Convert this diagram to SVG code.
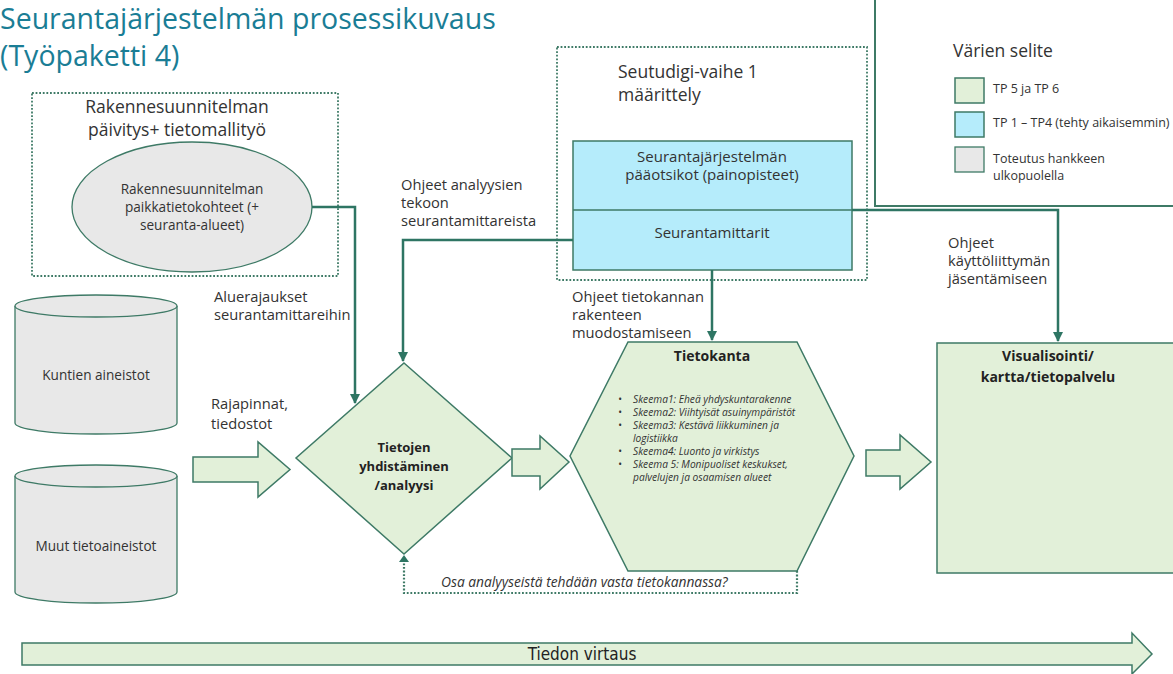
<svg xmlns="http://www.w3.org/2000/svg" width="1173" height="674" viewBox="0 0 1173 674">
<defs>
<marker id="ah" viewBox="0 0 10 10" refX="9" refY="5" markerWidth="4" markerHeight="4" orient="auto" markerUnits="strokeWidth">
<path d="M0,0 L10,5 L0,10 z" fill="#2e7563"/>
</marker>
<style>
text{font-family:"Open Sans","Liberation Sans",sans-serif;fill:#333;}
.title{fill:#1a7d95;font-size:28.5px;}
.hd{font-size:17.5px;}
.lbl{font-size:14.7px;}
.sm{font-size:12.5px;}
.cs{font-size:13.6px;}
.bl{font-size:15px;}
.b{font-weight:bold;font-size:14px;fill:#222;}
.bd{font-weight:bold;font-size:13px;fill:#222;}
.it{font-style:italic;font-size:10.2px;fill:#333;}
.green{fill:#e2f0d9;stroke:#3e7a66;stroke-width:1.5;}
.blue{fill:#b5ecfb;stroke:#3e7a66;stroke-width:1.5;}
.gray{fill:#e8e8e8;stroke:#3e7a66;stroke-width:1.3;}
.dot{fill:none;stroke:#3e7a66;stroke-width:1.8;stroke-dasharray:1.8 1.8;}
.con{fill:none;stroke:#2e7563;stroke-width:2.5;}
.c{text-anchor:middle;}
</style>
</defs>
<rect width="1173" height="674" fill="#fff"/>

<g id="title">
<text class="title" x="0" y="29">Seurantajärjestelmän prosessikuvaus</text>
<text class="title" x="0" y="66">(Työpaketti 4)</text>
</g>

<g id="legend">
<path d="M875,0 V206 H1173" fill="none" stroke="#3e7a66" stroke-width="2"/>
<text class="hd" x="953" y="57">Värien selite</text>
<rect class="green" x="955" y="78" width="29" height="25"/>
<text class="sm" x="993" y="93">TP 5 ja TP 6</text>
<rect class="blue" x="955" y="112" width="29" height="25"/>
<text class="sm" x="993" y="127">TP 1 – TP4 (tehty aikaisemmin)</text>
<rect class="gray" x="955" y="147" width="29" height="25"/>
<text class="sm" x="993" y="163">Toteutus hankkeen</text>
<text class="sm" x="993" y="180">ulkopuolella</text>
</g>

<g id="group-rakenne">
<rect class="dot" x="32" y="93" width="306" height="183"/>
<text class="hd c" x="177" y="113">Rakennesuunnitelman</text>
<text class="hd c" x="177" y="136">päivitys+ tietomallityö</text>
</g>

<g id="ellipse-paikkatieto">
<ellipse class="gray" cx="192" cy="207" rx="120" ry="65"/>
<text class="cs c" x="192" y="194">Rakennesuunnitelman</text>
<text class="cs c" x="192" y="212">paikkatietokohteet (+</text>
<text class="cs c" x="192" y="230">seuranta-alueet)</text>
</g>

<g id="group-seutudigi">
<rect class="dot" x="557" y="47" width="310" height="233"/>
<text class="hd" x="618" y="78">Seutudigi-vaihe 1</text>
<text class="hd" x="618" y="101">määrittely</text>
</g>

<g id="blue-box">
<rect class="blue" x="573" y="141" width="279" height="129"/>
<line x1="573" y1="210" x2="852" y2="210" stroke="#3e7a66" stroke-width="1.5"/>
<text class="bl c" x="712" y="162">Seurantajärjestelmän</text>
<text class="bl c" x="712" y="180">pääotsikot (painopisteet)</text>
<text class="bl c" x="712" y="238">Seurantamittarit</text>
</g>

<g id="cyl-kuntien">
<path class="gray" d="M15,306 V423 A81,11 0 0 0 177,423 V306"/>
<ellipse class="gray" cx="96" cy="306" rx="81" ry="11"/>
<text class="cs c" x="96" y="380">Kuntien aineistot</text>
</g>

<g id="cyl-muut">
<path class="gray" d="M15,476 V592 A81,11 0 0 0 177,592 V476"/>
<ellipse class="gray" cx="96" cy="476" rx="81" ry="11"/>
<text class="cs c" x="96" y="551">Muut tietoaineistot</text>
</g>

<g id="diamond">
<polygon class="green" points="404,363 512,458 404,554 296,458"/>
<text class="bd c" x="404" y="452">Tietojen</text>
<text class="bd c" x="404" y="471">yhdistäminen</text>
<text class="bd c" x="404" y="490">/analyysi</text>
</g>

<g id="hexagon">
<polygon class="green" points="628,342 797,342 854,456 797,571 628,571 570,456"/>
<text class="b c" x="712" y="361">Tietokanta</text>
<text class="it" x="618" y="403">•<tspan x="633">Skeema1: Eheä yhdyskuntarakenne</tspan></text>
<text class="it" x="618" y="416">•<tspan x="633">Skeema2: Viihtyisät asuinympäristöt</tspan></text>
<text class="it" x="618" y="429">•<tspan x="633">Skeema3: Kestävä liikkuminen ja</tspan></text>
<text class="it" x="633" y="442">logistiikka</text>
<text class="it" x="618" y="455">•<tspan x="633">Skeema4: Luonto ja virkistys</tspan></text>
<text class="it" x="618" y="468">•<tspan x="633">Skeema 5: Monipuoliset keskukset,</tspan></text>
<text class="it" x="633" y="481">palvelujen ja osaamisen alueet</text>
</g>

<g id="visualisointi">
<rect class="green" x="937" y="343" width="245" height="230"/>
<text class="b c" x="1048" y="361">Visualisointi/</text>
<text class="b c" x="1048" y="382">kartta/tietopalvelu</text>
</g>

<g id="block-arrows">
<polygon class="green" points="193,457 258,457 258,442 290,469.5 258,497 258,482 193,482"/>
<polygon class="green" points="512,449 540,449 540,436 569,462 540,489 540,476 512,476"/>
<polygon class="green" points="866,450 900,450 900,435 931,462 900,489 900,476 866,476"/>
<polygon class="green" points="22,643 1132,643 1132,633 1152,654 1132,674 1132,665 22,665"/>
<text class="c" x="582" y="660" style="font-family:'DejaVu Sans Condensed','DejaVu Sans',sans-serif;font-size:17px;fill:#222">Tiedon virtaus</text>
</g>

<g id="connectors">
<polyline class="con" points="312,207 355,207 355,403" marker-end="url(#ah)"/>
<polyline class="con" points="573,240 403,240 403,361" marker-end="url(#ah)"/>
<polyline class="con" points="712,270 712,340" marker-end="url(#ah)"/>
<polyline class="con" points="852,210 1058,210 1058,341" marker-end="url(#ah)"/>
<polyline class="dot" style="stroke-width:2.2" points="797,571 797,593 404,593 404,560"/>
<path d="M399,562 L404,555 L409,562 z" fill="#2e7563"/>
</g>

<g id="labels">
<text class="lbl" x="214" y="302">Aluerajaukset</text>
<text class="lbl" x="214" y="320">seurantamittareihin</text>
<text class="lbl" x="211" y="409">Rajapinnat,</text>
<text class="lbl" x="211" y="429">tiedostot</text>
<text class="lbl" x="401" y="190">Ohjeet analyysien</text>
<text class="lbl" x="401" y="208">tekoon</text>
<text class="lbl" x="401" y="226">seurantamittareista</text>
<text class="lbl" x="572" y="302">Ohjeet tietokannan</text>
<text class="lbl" x="572" y="320">rakenteen</text>
<text class="lbl" x="572" y="338">muodostamiseen</text>
<text class="lbl" x="948" y="248">Ohjeet</text>
<text class="lbl" x="948" y="266">käyttöliittymän</text>
<text class="lbl" x="948" y="284">jäsentämiseen</text>
<text x="441" y="587" style="font-style:italic;font-size:13.8px">Osa analyyseistä tehdään vasta tietokannassa?</text>
</g>
</svg>
